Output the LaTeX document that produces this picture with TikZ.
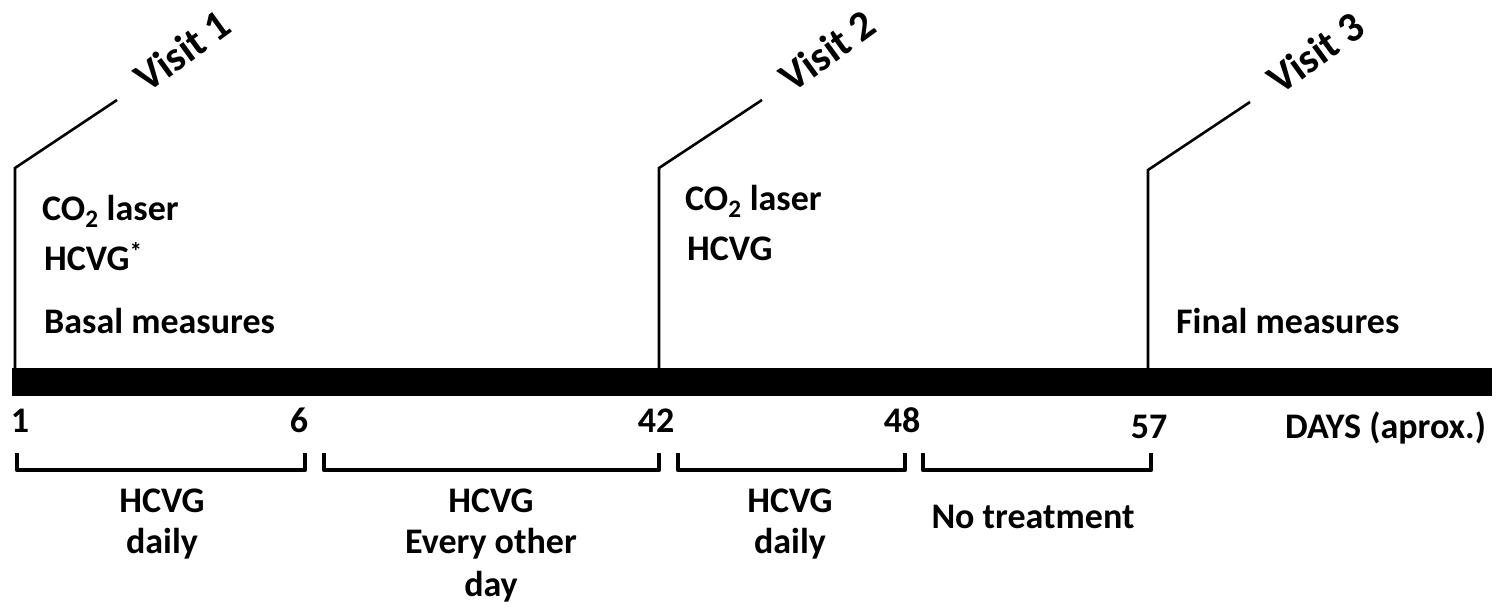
\documentclass[tikz,border=0pt]{standalone}
\usepackage{fontspec}
\setmainfont{Carlito}
\begin{document}
\begin{tikzpicture}[x=1pt,y=-1pt,
  txt/.style={inner sep=0pt,font=\fontsize{36}{42}\selectfont\bfseries},
  lbl/.style={txt,anchor=base west},
  num/.style={txt,anchor=base},
  vis/.style={txt,font=\fontsize{42}{48}\selectfont\bfseries,anchor=base west,rotate=36},
  vline/.style={line width=2.6pt,line join=miter},
  brk/.style={line width=4.5pt,line cap=butt,line join=round}]
\useasboundingbox (0,0) rectangle (1500,615);
% timeline bar
\fill (12,368) rectangle (1492,396);
% visit markers
\coordinate (v1b) at (15,368);  \coordinate (v1k) at (15,168);  \coordinate (v1e) at (117,100);
\coordinate (v2b) at (659,368); \coordinate (v2k) at (659,168); \coordinate (v2e) at (762,100);
\coordinate (v3b) at (1148,368);\coordinate (v3k) at (1148,170);\coordinate (v3e) at (1250,102);
\draw[vline] (v1b) -- (v1k) -- (v1e);
\draw[vline] (v2b) -- (v2k) -- (v2e);
\draw[vline] (v3b) -- (v3k) -- (v3e);
\node[vis] (t1) at ([shift={(30,-6)}]v1e) {Visit 1};
\node[vis] (t2) at ([shift={(30,-6)}]v2e) {Visit 2};
\node[vis] (t3) at ([shift={(30,-6)}]v3e) {Visit 3};
% visit texts
\node[lbl] (a1) at (42,220) {CO\textsubscript{2} laser};
\node[lbl] (a2) at (44,270) {HCVG\textsuperscript{*}};
\node[lbl] (a3) at (44,333) {Basal measures};
\node[lbl] (b1) at (685,210) {CO\textsubscript{2} laser};
\node[lbl] (b2) at (687,260) {HCVG};
\node[lbl] (c1) at (1176,333) {Final measures};
% day numbers
\node[num] (d1) at (20,432) {1};
\node[num] (d6) at (299,432) {6};
\node[num] (d42) at (656,432) {42};
\node[num] (d48) at (902,432) {48};
\node[num] (d57) at (1149,438) {57};
\node[lbl] (days) at (1285,438) {DAYS (aprox.)};
% brackets
\draw[brk] (17,453) -- (17,470) -- (305,470) -- (305,453);
\draw[brk] (324,453) -- (324,470) -- (659,470) -- (659,453);
\draw[brk] (678,453) -- (678,470) -- (905,470) -- (905,453);
\draw[brk] (923,453) -- (923,470) -- (1151,470) -- (1151,453);
% bracket labels
\node[num] (p1a) at (162,512) {HCVG};
\node[num] (p1b) at (162,553) {daily};
\node[num] (p2a) at (491,512) {HCVG};
\node[num] (p2b) at (491,553) {Every other};
\node[num] (p2c) at (491,596) {day};
\node[num] (p3a) at (790,512) {HCVG};
\node[num] (p3b) at (790,553) {daily};
\node[num] (p4a) at (1033,528) {No treatment};
\end{tikzpicture}
\end{document}
